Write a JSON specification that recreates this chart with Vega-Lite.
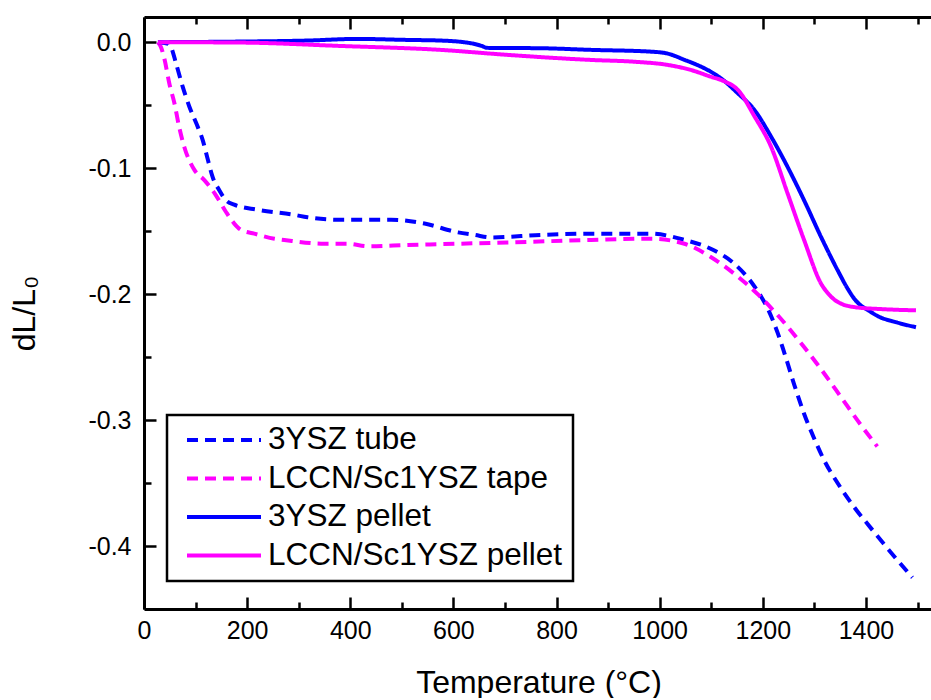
{
  "$schema": "https://vega.github.io/schema/vega-lite/v6.json",
  "width": 789,
  "height": 592,
  "padding": {"left": 8, "top": 15, "right": 0, "bottom": 0},
  "config": {
    "view": {"stroke": null},
    "axis": {"domainColor": "black", "domainWidth": 3, "tickColor": "black", "tickWidth": 2.5, "labelFont": "Liberation Sans", "labelFontSize": 25, "labelColor": "black", "titleFont": "Liberation Sans", "titleFontSize": 32, "titleFontWeight": "normal", "titleColor": "black", "grid": false, "labelFlush": false}
  },
  "data": {"values": [
    {"series": "3YSZ tube", "T": 27, "v": 0},
    {"series": "3YSZ tube", "T": 45, "v": -0.001},
    {"series": "3YSZ tube", "T": 52, "v": -0.0035},
    {"series": "3YSZ tube", "T": 62, "v": -0.0167},
    {"series": "3YSZ tube", "T": 75, "v": -0.0353},
    {"series": "3YSZ tube", "T": 88, "v": -0.0512},
    {"series": "3YSZ tube", "T": 101, "v": -0.064},
    {"series": "3YSZ tube", "T": 114, "v": -0.078},
    {"series": "3YSZ tube", "T": 124, "v": -0.0936},
    {"series": "3YSZ tube", "T": 133, "v": -0.107},
    {"series": "3YSZ tube", "T": 146, "v": -0.1175},
    {"series": "3YSZ tube", "T": 159, "v": -0.1255},
    {"series": "3YSZ tube", "T": 175, "v": -0.129},
    {"series": "3YSZ tube", "T": 220, "v": -0.133},
    {"series": "3YSZ tube", "T": 291, "v": -0.137},
    {"series": "3YSZ tube", "T": 317, "v": -0.139},
    {"series": "3YSZ tube", "T": 382, "v": -0.141},
    {"series": "3YSZ tube", "T": 479, "v": -0.141},
    {"series": "3YSZ tube", "T": 544, "v": -0.144},
    {"series": "3YSZ tube", "T": 609, "v": -0.151},
    {"series": "3YSZ tube", "T": 641, "v": -0.153},
    {"series": "3YSZ tube", "T": 673, "v": -0.155},
    {"series": "3YSZ tube", "T": 770, "v": -0.153},
    {"series": "3YSZ tube", "T": 867, "v": -0.152},
    {"series": "3YSZ tube", "T": 983, "v": -0.152},
    {"series": "3YSZ tube", "T": 1048, "v": -0.157},
    {"series": "3YSZ tube", "T": 1099, "v": -0.164},
    {"series": "3YSZ tube", "T": 1145, "v": -0.176},
    {"series": "3YSZ tube", "T": 1184, "v": -0.194},
    {"series": "3YSZ tube", "T": 1210, "v": -0.212},
    {"series": "3YSZ tube", "T": 1229, "v": -0.231},
    {"series": "3YSZ tube", "T": 1242, "v": -0.247},
    {"series": "3YSZ tube", "T": 1261, "v": -0.272},
    {"series": "3YSZ tube", "T": 1280, "v": -0.295},
    {"series": "3YSZ tube", "T": 1300, "v": -0.315},
    {"series": "3YSZ tube", "T": 1319, "v": -0.332},
    {"series": "3YSZ tube", "T": 1345, "v": -0.35},
    {"series": "3YSZ tube", "T": 1377, "v": -0.369},
    {"series": "3YSZ tube", "T": 1410, "v": -0.386},
    {"series": "3YSZ tube", "T": 1442, "v": -0.402},
    {"series": "3YSZ tube", "T": 1490, "v": -0.425},

    {"series": "LCCN/Sc1YSZ tape", "T": 27, "v": 0},
    {"series": "LCCN/Sc1YSZ tape", "T": 33, "v": -0.004},
    {"series": "LCCN/Sc1YSZ tape", "T": 40, "v": -0.014},
    {"series": "LCCN/Sc1YSZ tape", "T": 49, "v": -0.0326},
    {"series": "LCCN/Sc1YSZ tape", "T": 59, "v": -0.0485},
    {"series": "LCCN/Sc1YSZ tape", "T": 68, "v": -0.067},
    {"series": "LCCN/Sc1YSZ tape", "T": 78, "v": -0.083},
    {"series": "LCCN/Sc1YSZ tape", "T": 98, "v": -0.1016},
    {"series": "LCCN/Sc1YSZ tape", "T": 117, "v": -0.1095},
    {"series": "LCCN/Sc1YSZ tape", "T": 137, "v": -0.12},
    {"series": "LCCN/Sc1YSZ tape", "T": 159, "v": -0.1348},
    {"series": "LCCN/Sc1YSZ tape", "T": 175, "v": -0.144},
    {"series": "LCCN/Sc1YSZ tape", "T": 188, "v": -0.149},
    {"series": "LCCN/Sc1YSZ tape", "T": 214, "v": -0.152},
    {"series": "LCCN/Sc1YSZ tape", "T": 253, "v": -0.156},
    {"series": "LCCN/Sc1YSZ tape", "T": 272, "v": -0.157},
    {"series": "LCCN/Sc1YSZ tape", "T": 350, "v": -0.16},
    {"series": "LCCN/Sc1YSZ tape", "T": 395, "v": -0.16},
    {"series": "LCCN/Sc1YSZ tape", "T": 434, "v": -0.162},
    {"series": "LCCN/Sc1YSZ tape", "T": 511, "v": -0.161},
    {"series": "LCCN/Sc1YSZ tape", "T": 609, "v": -0.16},
    {"series": "LCCN/Sc1YSZ tape", "T": 706, "v": -0.159},
    {"series": "LCCN/Sc1YSZ tape", "T": 867, "v": -0.157},
    {"series": "LCCN/Sc1YSZ tape", "T": 983, "v": -0.156},
    {"series": "LCCN/Sc1YSZ tape", "T": 1048, "v": -0.16},
    {"series": "LCCN/Sc1YSZ tape", "T": 1099, "v": -0.1705},
    {"series": "LCCN/Sc1YSZ tape", "T": 1145, "v": -0.184},
    {"series": "LCCN/Sc1YSZ tape", "T": 1190, "v": -0.2},
    {"series": "LCCN/Sc1YSZ tape", "T": 1225, "v": -0.215},
    {"series": "LCCN/Sc1YSZ tape", "T": 1280, "v": -0.242},
    {"series": "LCCN/Sc1YSZ tape", "T": 1319, "v": -0.263},
    {"series": "LCCN/Sc1YSZ tape", "T": 1352, "v": -0.282},
    {"series": "LCCN/Sc1YSZ tape", "T": 1384, "v": -0.3005},
    {"series": "LCCN/Sc1YSZ tape", "T": 1422, "v": -0.321},

    {"series": "3YSZ pellet", "T": 27, "v": 0},
    {"series": "3YSZ pellet", "T": 188, "v": 0.0005},
    {"series": "3YSZ pellet", "T": 317, "v": 0.0013},
    {"series": "3YSZ pellet", "T": 414, "v": 0.0026},
    {"series": "3YSZ pellet", "T": 511, "v": 0.0018},
    {"series": "3YSZ pellet", "T": 575, "v": 0.0013},
    {"series": "3YSZ pellet", "T": 620, "v": 0.0},
    {"series": "3YSZ pellet", "T": 641, "v": -0.0014},
    {"series": "3YSZ pellet", "T": 655, "v": -0.003},
    {"series": "3YSZ pellet", "T": 665, "v": -0.0045},
    {"series": "3YSZ pellet", "T": 770, "v": -0.0048},
    {"series": "3YSZ pellet", "T": 867, "v": -0.0061},
    {"series": "3YSZ pellet", "T": 983, "v": -0.0075},
    {"series": "3YSZ pellet", "T": 1015, "v": -0.009},
    {"series": "3YSZ pellet", "T": 1048, "v": -0.014},
    {"series": "3YSZ pellet", "T": 1080, "v": -0.0194},
    {"series": "3YSZ pellet", "T": 1099, "v": -0.0234},
    {"series": "3YSZ pellet", "T": 1123, "v": -0.03},
    {"series": "3YSZ pellet", "T": 1150, "v": -0.04},
    {"series": "3YSZ pellet", "T": 1184, "v": -0.054},
    {"series": "3YSZ pellet", "T": 1216, "v": -0.075},
    {"series": "3YSZ pellet", "T": 1248, "v": -0.099},
    {"series": "3YSZ pellet", "T": 1280, "v": -0.1255},
    {"series": "3YSZ pellet", "T": 1313, "v": -0.1547},
    {"series": "3YSZ pellet", "T": 1345, "v": -0.181},
    {"series": "3YSZ pellet", "T": 1365, "v": -0.196},
    {"series": "3YSZ pellet", "T": 1377, "v": -0.2035},
    {"series": "3YSZ pellet", "T": 1390, "v": -0.209},
    {"series": "3YSZ pellet", "T": 1405, "v": -0.213},
    {"series": "3YSZ pellet", "T": 1423, "v": -0.2175},
    {"series": "3YSZ pellet", "T": 1460, "v": -0.2225},
    {"series": "3YSZ pellet", "T": 1497, "v": -0.2263},

    {"series": "LCCN/Sc1YSZ pellet", "T": 27, "v": 0},
    {"series": "LCCN/Sc1YSZ pellet", "T": 188, "v": -0.0003},
    {"series": "LCCN/Sc1YSZ pellet", "T": 382, "v": -0.003},
    {"series": "LCCN/Sc1YSZ pellet", "T": 575, "v": -0.0061},
    {"series": "LCCN/Sc1YSZ pellet", "T": 706, "v": -0.0101},
    {"series": "LCCN/Sc1YSZ pellet", "T": 867, "v": -0.0141},
    {"series": "LCCN/Sc1YSZ pellet", "T": 950, "v": -0.0155},
    {"series": "LCCN/Sc1YSZ pellet", "T": 1015, "v": -0.018},
    {"series": "LCCN/Sc1YSZ pellet", "T": 1060, "v": -0.022},
    {"series": "LCCN/Sc1YSZ pellet", "T": 1099, "v": -0.0274},
    {"series": "LCCN/Sc1YSZ pellet", "T": 1125, "v": -0.031},
    {"series": "LCCN/Sc1YSZ pellet", "T": 1152, "v": -0.038},
    {"series": "LCCN/Sc1YSZ pellet", "T": 1184, "v": -0.059},
    {"series": "LCCN/Sc1YSZ pellet", "T": 1216, "v": -0.083},
    {"series": "LCCN/Sc1YSZ pellet", "T": 1248, "v": -0.12},
    {"series": "LCCN/Sc1YSZ pellet", "T": 1280, "v": -0.157},
    {"series": "LCCN/Sc1YSZ pellet", "T": 1313, "v": -0.1917},
    {"series": "LCCN/Sc1YSZ pellet", "T": 1330, "v": -0.201},
    {"series": "LCCN/Sc1YSZ pellet", "T": 1339, "v": -0.2045},
    {"series": "LCCN/Sc1YSZ pellet", "T": 1352, "v": -0.2076},
    {"series": "LCCN/Sc1YSZ pellet", "T": 1377, "v": -0.2103},
    {"series": "LCCN/Sc1YSZ pellet", "T": 1435, "v": -0.212},
    {"series": "LCCN/Sc1YSZ pellet", "T": 1497, "v": -0.2129}
  ]},
  "resolve": {"axis": {"x": "independent", "y": "independent"}},
  "layer": [
    {
      "mark": {"type": "line", "strokeWidth": 4, "interpolate": "monotone"},
      "encoding": {
        "x": {"field": "T", "type": "quantitative", "scale": {"domain": [0, 1530], "nice": false, "zero": false},
          "axis": {"orient": "bottom", "values": [0, 200, 400, 600, 800, 1000, 1200, 1400], "format": "d", "tickSize": -12, "labelPadding": 21, "title": "Temperature (°C)", "titlePadding": 24}},
        "y": {"field": "v", "type": "quantitative", "scale": {"domain": [-0.45, 0.02], "nice": false, "zero": false},
          "axis": {"orient": "left", "values": [0, -0.1, -0.2, -0.3, -0.4], "tickSize": -12, "labelPadding": 25, "labelExpr": "replace(format(datum.value, '.1f'), '\u2212', '-')", "title": "dL/L₀", "titlePadding": 46}},
        "color": {"field": "series", "type": "nominal",
          "scale": {"domain": ["3YSZ tube", "LCCN/Sc1YSZ tape", "3YSZ pellet", "LCCN/Sc1YSZ pellet"], "range": ["#0000ff", "#ff00ff", "#0000ff", "#ff00ff"]},
          "legend": {"title": null, "orient": "none", "legendX": 23, "legendY": 398, "direction": "vertical", "symbolType": "stroke", "symbolSize": 5476, "symbolStrokeWidth": 4, "labelFont": "Liberation Sans", "labelFontSize": 31.5, "labelColor": "black", "labelLimit": 600, "clipHeight": 30, "rowPadding": 6.5, "padding": 10, "symbolOffset": 8, "labelOffset": 5, "strokeColor": "black", "fillColor": "white",
            "encode": {"legend": {"update": {"strokeWidth": {"value": 2.5}}}}}},
        "strokeDash": {"field": "series", "type": "nominal",
          "scale": {"domain": ["3YSZ tube", "LCCN/Sc1YSZ tape", "3YSZ pellet", "LCCN/Sc1YSZ pellet"], "range": [[11, 7], [11, 7], [1, 0], [1, 0]]},
          "legend": {"title": null, "orient": "none", "legendX": 23, "legendY": 398, "direction": "vertical", "symbolType": "stroke", "symbolSize": 5476, "symbolStrokeWidth": 4, "labelFont": "Liberation Sans", "labelFontSize": 31.5, "labelColor": "black", "labelLimit": 600, "clipHeight": 30, "rowPadding": 6.5, "padding": 10, "symbolOffset": 8, "labelOffset": 5, "strokeColor": "black", "fillColor": "white"}}
      }
    },
    {
      "mark": {"type": "line", "opacity": 0},
      "encoding": {
        "x": {"field": "T", "type": "quantitative", "scale": {"domain": [0, 1530], "nice": false, "zero": false},
          "axis": {"orient": "bottom", "values": [100, 300, 500, 700, 900, 1100, 1300, 1500], "tickSize": -7, "labels": false, "domain": false, "title": null}},
        "y": {"field": "v", "type": "quantitative", "scale": {"domain": [-0.45, 0.02], "nice": false, "zero": false},
          "axis": {"orient": "left", "values": [-0.05, -0.15, -0.25, -0.35], "tickSize": -7, "labels": false, "domain": false, "title": null}},
        "detail": {"field": "series"}
      }
    },
    {
      "mark": {"type": "line", "opacity": 0},
      "encoding": {
        "x": {"field": "T", "type": "quantitative", "scale": {"domain": [0, 1530], "nice": false, "zero": false},
          "axis": {"orient": "top", "values": [0, 200, 400, 600, 800, 1000, 1200, 1400], "tickSize": -12, "labels": false, "domain": true, "title": null}},
        "y": {"field": "v", "type": "quantitative", "scale": {"domain": [-0.45, 0.02], "nice": false, "zero": false}, "axis": null},
        "detail": {"field": "series"}
      }
    },
    {
      "mark": {"type": "line", "opacity": 0},
      "encoding": {
        "x": {"field": "T", "type": "quantitative", "scale": {"domain": [0, 1530], "nice": false, "zero": false},
          "axis": {"orient": "top", "values": [100, 300, 500, 700, 900, 1100, 1300, 1500], "tickSize": -7, "labels": false, "domain": false, "title": null}},
        "y": {"field": "v", "type": "quantitative", "scale": {"domain": [-0.45, 0.02], "nice": false, "zero": false}, "axis": null},
        "detail": {"field": "series"}
      }
    }
  ]
}
